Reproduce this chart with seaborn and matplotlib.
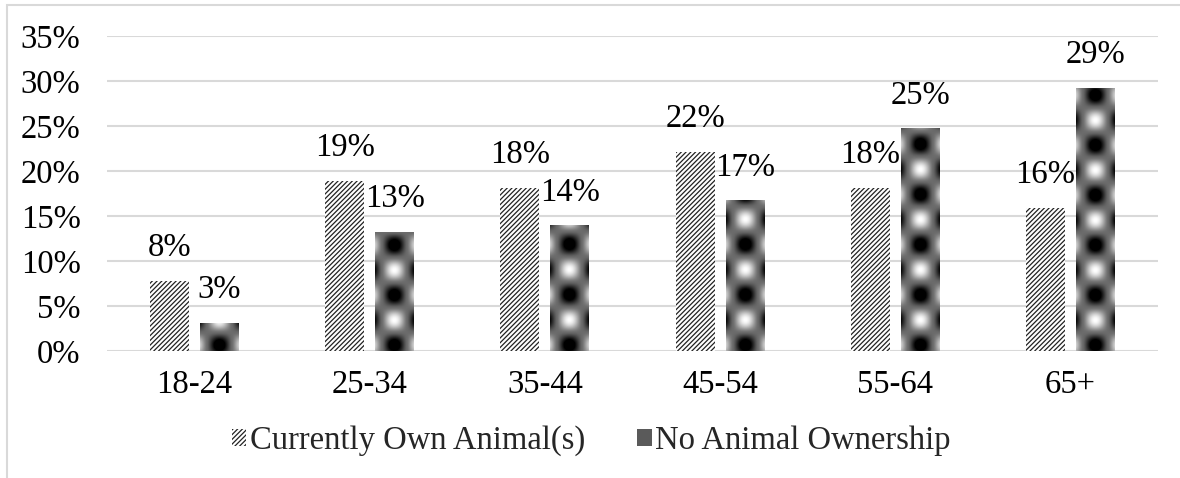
import numpy as np
import pandas as pd
import matplotlib.pyplot as plt
import seaborn as sns
from matplotlib.patches import Patch, Rectangle
from matplotlib.ticker import PercentFormatter

# data
ages = ['18-24', '25-34', '35-44', '45-54', '55-64', '65+']
own = [0.078, 0.189, 0.181, 0.221, 0.181, 0.159]
no_own = [0.031, 0.132, 0.139, 0.167, 0.247, 0.292]
groups = ['Currently Own Animal(s)', 'No Animal Ownership']

df = pd.DataFrame({
    'age': ages * 2,
    'share': own + no_own,
    'group': [groups[0]] * len(ages) + [groups[1]] * len(ages),
})

W, H = 1180, 478
FS = 23.5
sns.set_theme(style='white')
plt.rcParams['font.family'] = ['Liberation Serif', 'DejaVu Serif']
plt.rcParams['hatch.linewidth'] = 0.9

fig = plt.figure(figsize=(W / 100, H / 100), dpi=100)
ax_l, ax_r, ax_t, ax_b = 107, 1158, 36, 351
ax = fig.add_axes([ax_l / W, 1 - ax_b / H, (ax_r - ax_l) / W, (ax_b - ax_t) / H])

sns.barplot(data=df, x='age', y='share', hue='group', order=ages, hue_order=groups,
            palette=['white', '#555555'], width=0.57, gap=0.22, legend=False,
            linewidth=0, ax=ax, zorder=2)

# hatched bars
for bar in ax.containers[0]:
    bar.set_hatch('///////')
    bar.set_edgecolor('#222222')
    bar.set_linewidth(0)

# gradient-spot fill for the second series
px_x = (ax_r - ax_l) / len(ages)
px_y = (ax_b - ax_t) / 0.35
period = 50.0
for bar in ax.containers[1]:
    x0, w, h = bar.get_x(), bar.get_width(), bar.get_height()
    nx = max(int(round(w * px_x)), 2)
    ny = max(int(round(h * px_y)), 2)
    dx = np.arange(nx) + 0.5 - nx / 2
    dy = np.arange(ny) + 0.5
    xx, yy = np.meshgrid(dx, dy)
    val = np.cos(2 * np.pi * xx / period) * np.cos(2 * np.pi * (yy - 31) / period)
    val = np.sign(val) * np.abs(val) ** 1.3
    img = np.clip(0.42 + 0.58 * val, 0, 1)
    ax.imshow(img, extent=(x0, x0 + w, 0, h), origin='lower', cmap='gray',
              vmin=0, vmax=1, aspect='auto', interpolation='bilinear', zorder=3)
    bar.set_alpha(0)

ax.set_xlim(-0.5, len(ages) - 0.5)
ax.set_ylim(0, 0.35)

for cont in ax.containers:
    ax.bar_label(cont, labels=[f'{v * 100:.0f}%' for v in cont.datavalues],
                 padding=13, fontsize=FS, color='black')

ax.set_yticks(np.arange(0, 0.351, 0.05))
ax.yaxis.set_major_formatter(PercentFormatter(1.0, decimals=0))
ax.grid(axis='y', color='#d9d9d9', linewidth=1.5, zorder=0)
ax.set_axisbelow(True)
for s in ax.spines.values():
    s.set_visible(False)
ax.tick_params(axis='both', length=0, labelsize=FS, colors='black')
ax.tick_params(axis='y', pad=19)
ax.tick_params(axis='x', pad=13)
ax.set_xlabel('')
ax.set_ylabel('')

handles = [Patch(facecolor='white', edgecolor='#222222', linewidth=0, hatch='///////'),
           Patch(facecolor='#5a5a5a', edgecolor='#5a5a5a', linewidth=0)]
fig.legend(handles, groups, loc='center', bbox_to_anchor=(591 / W, 1 - 441 / H),
           ncol=2, frameon=False, fontsize=FS, handlelength=0.45, handleheight=0.45,
           handletextpad=0.1, columnspacing=1.6)

# chart frame
fig.patches.append(Rectangle((7 / W, -0.1), 1.2, 1.1 - 5 / H, transform=fig.transFigure,
                             fill=False, edgecolor='#d9d9d9', linewidth=1.5))

fig.savefig('out.png', dpi=100)
